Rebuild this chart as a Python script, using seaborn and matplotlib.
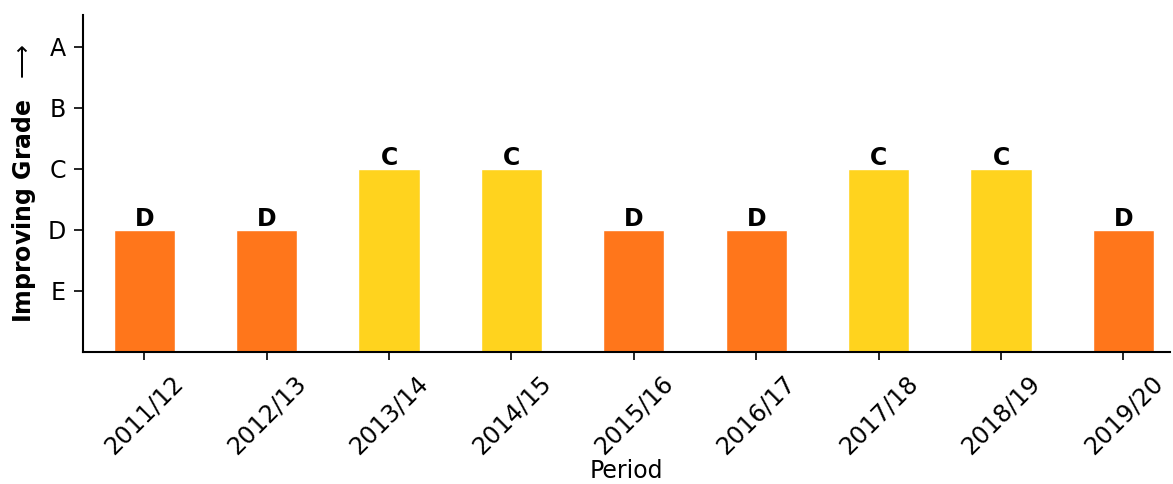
import matplotlib
matplotlib.use("Agg")
import matplotlib.pyplot as plt
import seaborn as sns
import pandas as pd

periods = ["2011/12", "2012/13", "2013/14", "2014/15", "2015/16",
           "2016/17", "2017/18", "2018/19", "2019/20"]
grades = ["D", "D", "C", "C", "D", "D", "C", "C", "D"]
grade_levels = ["E", "D", "C", "B", "A"]
grade_values = [1, 2, 3, 4, 5]
grade_colors = {"C": "#FFD31E", "D": "#FF761B"}

gmap = dict(zip(grade_levels, grade_values))
df = pd.DataFrame({"Period": periods, "Grade": grades,
                   "Value": [gmap[g] for g in grades]})

sns.set_style("ticks")
plt.rcParams['font.family'] = ['DejaVu Sans']
plt.rcParams['text.color'] = 'black'
plt.rcParams['axes.labelcolor'] = 'black'
plt.rcParams['xtick.color'] = 'black'
plt.rcParams['ytick.color'] = 'black'

fig = plt.figure(figsize=(11.73, 4.84), dpi=100)
ax = fig.add_axes([0.0708, 0.2727, 0.9266, 0.6963])

sns.barplot(data=df, x="Period", y="Value", hue="Grade", palette=grade_colors,
            dodge=False, width=0.5, legend=False, ax=ax, saturation=1)

for i, (v, g) in enumerate(zip(df["Value"], df["Grade"])):
    ax.text(i, v - 0.02, g, ha="center", va="bottom", fontsize=17, fontweight="bold")

ax.set_ylim(0, 5.52)
ax.set_xlim(-0.5, 8.38)
ax.set_yticks(grade_values)
ax.set_yticklabels(grade_levels, fontsize=17)
ax.tick_params(axis="x", labelsize=17.3, length=6, width=1.2, pad=7.5)
ax.tick_params(axis="y", length=6.5, width=1.2, pad=6)
for lbl in ax.get_xticklabels():
    lbl.set_rotation(45)
    lbl.set_ha("center")
ax.set_xlabel("Period", fontsize=17, labelpad=0)
ax.set_ylabel("Improving Grade  $\\longrightarrow$", fontsize=17, fontweight="bold", labelpad=7)
ax.spines["top"].set_visible(False)
ax.spines["right"].set_visible(False)
for s in ("left", "bottom"):
    ax.spines[s].set_linewidth(1.5)
    ax.spines[s].set_color("black")

fig.savefig("out.png", dpi=100)
